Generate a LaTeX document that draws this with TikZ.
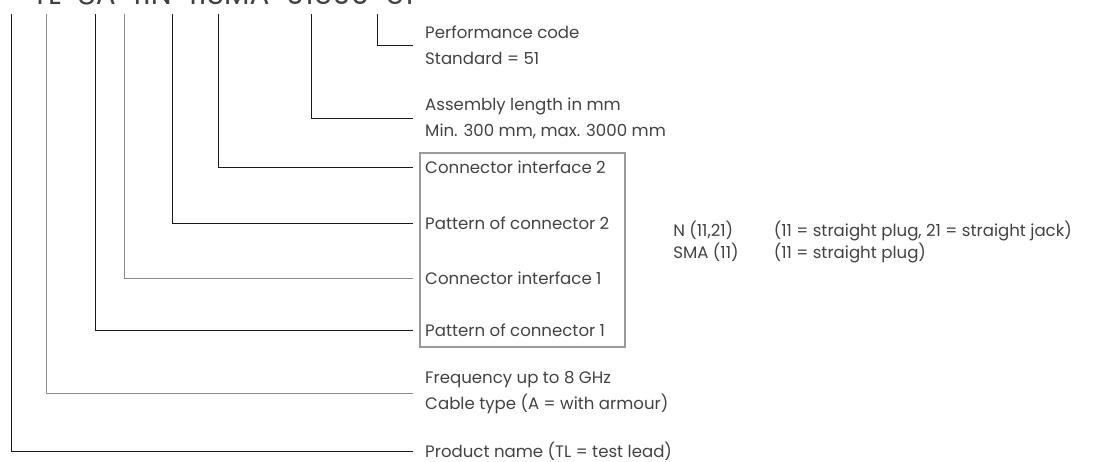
\documentclass[tikz,border=0pt]{standalone}
\usepackage{fontspec}
\setmainfont{Poppins}
\usetikzlibrary{fit}

\definecolor{txtgray}{HTML}{424242}
\definecolor{leaddark}{HTML}{1A1A1A}
\definecolor{leadlight}{HTML}{8A8A8A}
\definecolor{boxgray}{HTML}{9A9A9A}

\begin{document}
\begin{tikzpicture}[
  x=0.025cm, y=-0.025cm,
  font=\fontsize{11.8}{18.5}\selectfont,
  label/.style={anchor=west, align=left, inner xsep=8.5pt, inner ysep=0pt, text=txtgray},
  lead/.style={draw=leaddark, line width=0.7pt},
  leadlt/.style={draw=leadlight, line width=0.7pt},
  ifbox/.style={draw=boxgray, line width=0.8pt, inner sep=0pt}
]
\useasboundingbox (0,0) rectangle (1099,461);

% order code, cut off at the top edge
\node[anchor=base east, inner sep=0pt, text=txtgray, font=\fontsize{21}{21}\selectfont] (code) at (414,4)
  {TL-8A-11N-11SMA-01500-51};

% foot points of the leads under the code
\coordinate (tl)   at (11,14);
\coordinate (armo) at (46,14);
\coordinate (pat1) at (95,14);
\coordinate (int1) at (124,14);
\coordinate (pat2) at (172,14);
\coordinate (int2) at (218,14);
\coordinate (len)  at (311,14);
\coordinate (perf) at (377,14);

% labels
\node[label] (perflbl) at (413,45)  {Performance code\\Standard = 51};
\node[label] (lenlbl)  at (413,118) {Assembly length in mm\\Min. 300 mm, max. 3000 mm};
\node[label] (int2lbl) at (413,167) {Connector interface 2};
\node[label] (pat2lbl) at (413,223) {Pattern of connector 2};
\node[label] (int1lbl) at (413,278) {Connector interface 1};
\node[label] (pat1lbl) at (413,330) {Pattern of connector 1};
\node[label] (armolbl) at (413,393) {Frequency up to 8 GHz\\Cable type (A = with armour)};
\node[label] (tllbl)   at (413,451) {Product name (TL = test lead)};

% box round the connector entries
\coordinate (boxnw) at (420,153);
\coordinate (boxse) at (625,347);
\node[ifbox, fit=(boxnw)(boxse)] (conbox) {};

\node[anchor=west, inner sep=0pt, text=txtgray, font=\fontsize{11.8}{14.5}\selectfont] (types) at (673,243)
  {\begin{tabular}{@{}p{71.5pt}@{}l@{}}
   N (11,21) & (11 = straight plug, 21 = straight jack)\\
   SMA (11)  & (11 = straight plug)
   \end{tabular}};

% leads
\draw[lead]   (perf) |- (perflbl.west);
\draw[lead]   (len)  |- (lenlbl.west);
\draw[lead]   (int2) |- (int2lbl.west);
\draw[lead]   (pat2) |- (pat2lbl.west);
\draw[leadlt] (int1) |- (int1lbl.west);
\draw[lead]   (pat1) |- (pat1lbl.west);
\draw[leadlt] (armo) |- (armolbl.west);
\draw[lead]   (tl)   |- (tllbl.west);

\end{tikzpicture}
\end{document}
